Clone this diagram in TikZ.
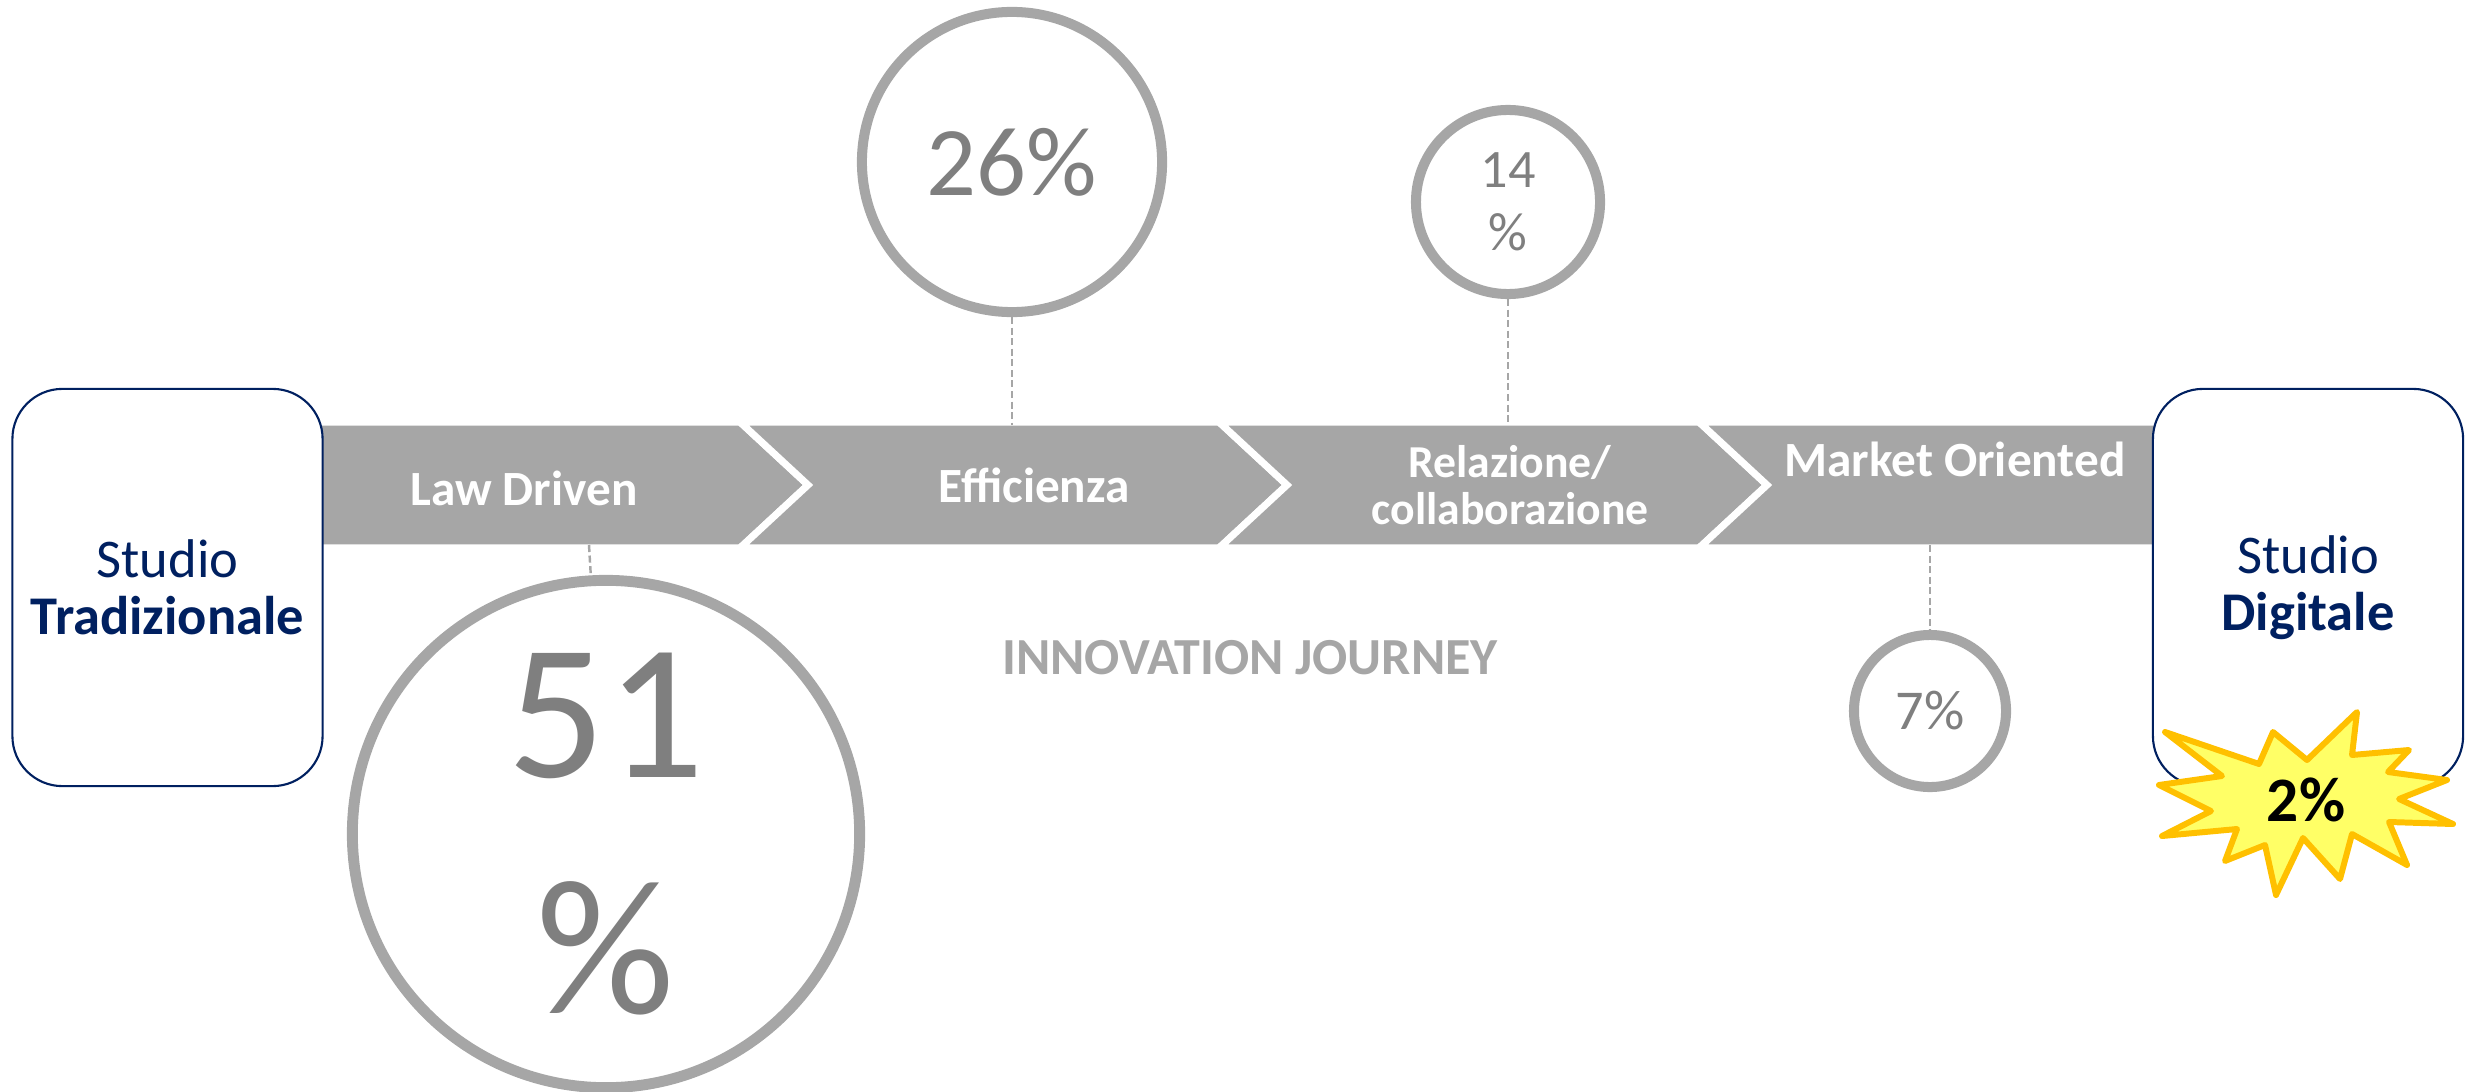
\documentclass[tikz,border=0pt]{standalone}
\usepackage{fontspec}
\setmainfont{Carlito}
\definecolor{bargray}{HTML}{A6A6A6}
\definecolor{numgray}{HTML}{7F7F7F}
\definecolor{navy}{HTML}{002060}
\definecolor{starfill}{HTML}{FFFF66}
\definecolor{staredge}{HTML}{FFC000}
\begin{document}
\begin{tikzpicture}[x=0.01cm, y=-0.01cm,
    seg/.style={fill=bargray, draw=white, line width=2pt},
    segtext/.style={text=white, align=center, font=\bfseries\fontsize{14}{16}\selectfont},
    studio/.style={draw=navy, line width=0.6pt, fill=white, rounded corners=0.5cm, minimum width=3.1cm, minimum height=3.97cm, align=center, text=navy, font=\fontsize{15.5}{16.2}\selectfont},
    pct/.style={circle, draw=bargray, fill=white, inner sep=0pt, text=numgray, align=center, line width=2.85pt},
    link/.style={draw=bargray, line width=0.7pt, dash pattern=on 2pt off 1pt}]
    \useasboundingbox (0,0) rectangle (2470,1091);
    \clip (0,0) rectangle (2470,1091);
    \path[seg] (300,422) -- (740,422) -- (808,485) -- (740,548) -- (300,548) -- cycle;
    \path[seg] (740,422) -- (1219,422) -- (1287,485) -- (1219,548) -- (740,548) -- (808,485) -- cycle;
    \path[seg] (1219,422) -- (1699,422) -- (1767,485) -- (1699,548) -- (1219,548) -- (1287,485) -- cycle;
    \path[seg] (1699,422) -- (2200,422) -- (2268,485) -- (2200,548) -- (1699,548) -- (1767,485) -- cycle;
    \node[segtext] (law) at (524,488) {Law Driven};
    \node[segtext] (eff) at (1034,485) {Efficienza};
    \node[segtext, font=\bfseries\fontsize{13}{13.2}\selectfont] (rel) at (1510,485) {Relazione/\\collaborazione};
    \node[segtext] (mkt) at (1955,459) {Market Oriented};
    \coordinate (lawB) at (589,545);
    \coordinate (effT) at (1012,425);
    \coordinate (relT) at (1508,425);
    \coordinate (mktB) at (1930,545);
    \node[studio] (trad) at (167.5,587.5) {Studio\\\textbf{Tradizionale}};
    \node[studio] (digi) at (2308,587.5) {Studio\\\textbf{Digitale}};
    \node[pct, line width=3.1pt, minimum size=5.07cm, font=\fontsize{55}{67}\selectfont] (c51) at (606,834) {51\\\%};
    \node[pct, minimum size=3cm, font=\fontsize{28}{30}\selectfont] (c26) at (1012,162) {26\%};
    \node[pct, minimum size=1.84cm, font=\fontsize{15.4}{17.9}\selectfont] (c14) at (1508,202) {14\\\%};
    \node[pct, minimum size=1.52cm, font=\fontsize{16}{18}\selectfont] (c7) at (1930,711) {7\%};
    \draw[link] (lawB) -- (c51);
    \draw[link] (c26) -- (effT);
    \draw[link] (c14) -- (relT);
    \draw[link] (mktB) -- (c7);
    \node[text=bargray, font=\bfseries\fontsize{14.8}{16}\selectfont] (journey) at (1250,658) {INNOVATION JOURNEY};
    \path[fill=starfill, draw=staredge, line width=1.7pt, line join=round] (2165,732) -- (2259,764) -- (2273,732) -- (2307,760) -- (2357,712) -- (2352,755) -- (2409,750) -- (2388,772) -- (2447,780) -- (2399,799) -- (2453,824) -- (2389,822) -- (2407,865) -- (2352,834) -- (2340,879) -- (2303,838) -- (2276,895) -- (2265,845) -- (2225,861) -- (2237,829) -- (2162,836) -- (2211,811) -- (2159,785) -- (2222,776) -- cycle;
    \node[font=\bfseries\fontsize{18}{20}\selectfont] (pct2) at (2306,800) {2\%};
  \end{tikzpicture}
\end{document}
